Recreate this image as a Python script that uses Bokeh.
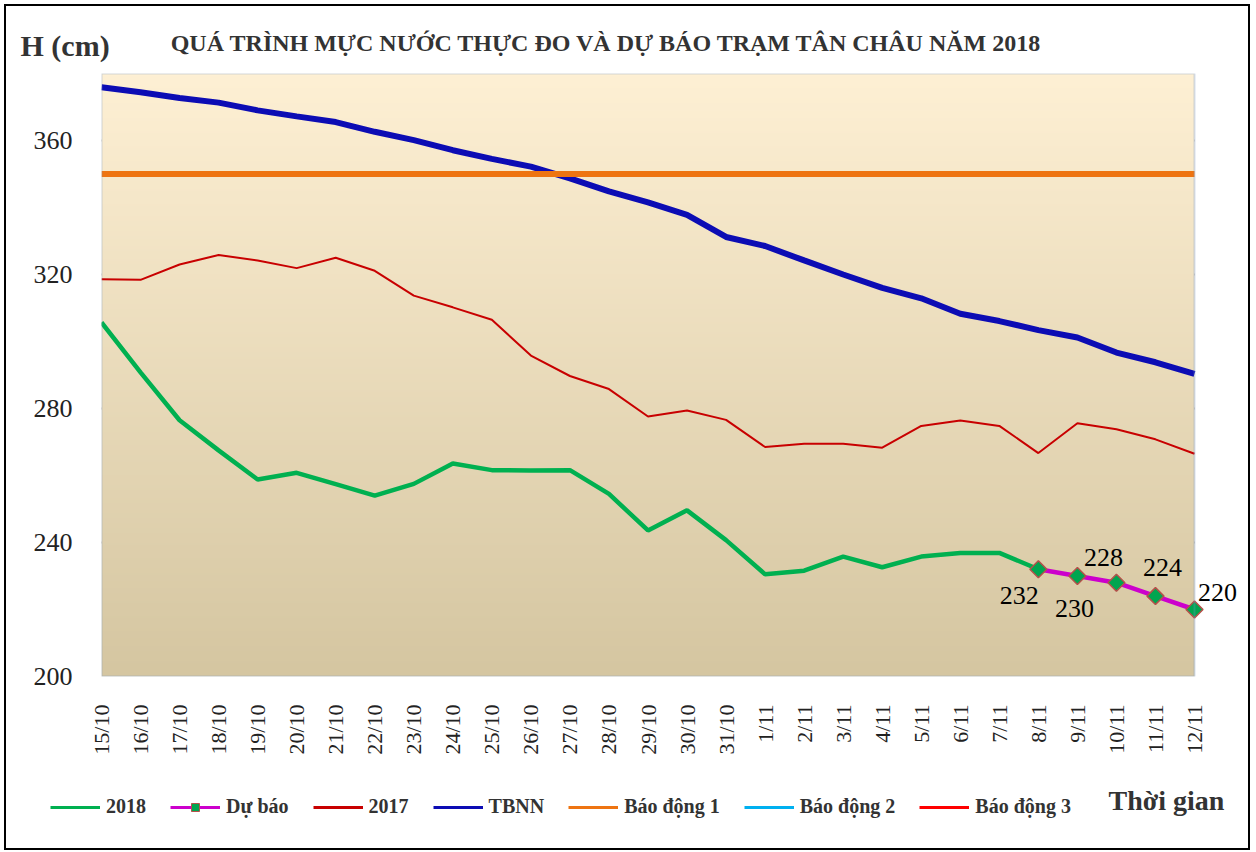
import math
import numpy as np
from bokeh.plotting import figure
from bokeh.layouts import column
from bokeh.models import (Range1d, FixedTicker, Legend, LegendItem, Label,
                          LabelSet, ColumnDataSource, BoxAnnotation)
from bokeh.embed import file_html
from bokeh.resources import INLINE

# ---------------- data ----------------
dates = ["15/10", "16/10", "17/10", "18/10", "19/10", "20/10", "21/10", "22/10",
         "23/10", "24/10", "25/10", "26/10", "27/10", "28/10", "29/10", "30/10",
         "31/10", "1/11", "2/11", "3/11", "4/11", "5/11", "6/11", "7/11",
         "8/11", "9/11", "10/11", "11/11", "12/11"]

h2018 = [305.7, 290.8, 276.5, 267.5, 258.8, 260.8, 257.4, 254.0, 257.5, 263.6,
         261.6, 261.5, 261.6, 254.5, 243.6, 249.6, 240.7, 230.5, 231.6, 235.8,
         232.6, 235.8, 236.9, 236.9, 232.0]

forecast = [232, 230, 228, 224, 220]
forecast_dates = ["8/11", "9/11", "10/11", "11/11", "12/11"]

h2017 = [318.6, 318.4, 323.0, 325.8, 324.2, 321.9, 325.0, 321.1, 313.7, 310.2,
         306.5, 295.8, 289.7, 285.8, 277.6, 279.4, 276.6, 268.5, 269.5, 269.5,
         268.3, 274.8, 276.4, 274.8, 266.7, 275.6, 273.8, 270.8, 266.5]

tbnn = [375.9, 374.4, 372.7, 371.3, 369.0, 367.2, 365.5, 362.6, 360.1, 357.1,
        354.5, 352.2, 348.7, 344.8, 341.5, 337.8, 331.2, 328.5, 324.2, 320.0,
        316.0, 312.9, 308.3, 306.1, 303.4, 301.2, 296.7, 293.8, 290.3]

alarm1 = 350   # Báo động 1
alarm2 = 400   # Báo động 2
alarm3 = 450   # Báo động 3

y_ticks = [200, 240, 280, 320, 360]
grid_ticks = [240, 280, 320, 360]
y_min, y_max = 200, 380

title_text = "QUÁ TRÌNH MỰC NƯỚC THỰC ĐO VÀ DỰ BÁO TRẠM TÂN CHÂU NĂM 2018"
y_unit_text = "H (cm)"
x_title_text = "Thời gian"
legend_labels = ["2018", "Dự báo", "2017", "TBNN", "Báo động 1", "Báo động 2",
                 "Báo động 3"]

# label offsets (pixels, +x right, +y up) for forecast labels
label_dx = [-19, -3, -13, 7, 23]
label_dy = [-26, -32, 25, 29, 17]

# ---------------- layout sizes ----------------
W = 1242
HEAD_H = 60
MAIN_H = 704
FOOT_H = 78
BL, BR, BT = 95, 4, 7
FRAME_H = 603
BB = MAIN_H - BT - FRAME_H
n = len(dates)
plot_px = 1093                     # width of the plotting box
frame_w = W - BL - BR
x_hi = (n - 1) * frame_w / plot_px


def no_align(fig):
    if "frame_align" in fig.properties():
        fig.frame_align = False


# ---------------- header ----------------
head = figure(width=W, height=HEAD_H, output_backend="svg", toolbar_location=None,
              x_range=Range1d(0, W), y_range=Range1d(0, HEAD_H),
              x_axis_location=None, y_axis_location=None,
              min_border=0, outline_line_color=None)
no_align(head)
head.grid.visible = False
head.add_layout(Label(x=14, y=21, text=y_unit_text, text_align="left",
                      text_baseline="middle", text_font="Liberation Serif",
                      text_font_style="bold", text_font_size="30px",
                      text_color="#333333"))
head.add_layout(Label(x=600, y=24, text=title_text, text_align="center",
                      text_baseline="middle", text_font="Liberation Serif",
                      text_font_style="bold", text_font_size="24px",
                      text_color="#333333"))

# ---------------- main figure ----------------
xs = list(range(n))
x2018 = xs[:len(h2018)]
xfc = [dates.index(d) for d in forecast_dates]

p = figure(width=W, height=MAIN_H, output_backend="svg", toolbar_location=None,
           x_range=Range1d(0, x_hi), y_range=Range1d(y_min, y_max),
           min_border_left=BL, min_border_right=BR, min_border_top=BT,
           min_border_bottom=BB, border_fill_color="white",
           background_fill_color="white", outline_line_color=None)
no_align(p)

# gradient background of the plotting box
top = np.array([254, 240, 212])
bot = np.array([213, 198, 161])
rows = 240
t = np.linspace(0, 1, rows)[:, None]          # 0 = bottom, 1 = top
cols = bot + (top - bot) * t
img = np.zeros((rows, 1), dtype=np.uint32)
view = img.view(dtype=np.uint8).reshape((rows, 1, 4))
view[:, 0, 0] = cols[:, 0].astype(np.uint8)
view[:, 0, 1] = cols[:, 1].astype(np.uint8)
view[:, 0, 2] = cols[:, 2].astype(np.uint8)
view[:, 0, 3] = 255
p.image_rgba(image=[img], x=0, y=y_min, dw=n - 1, dh=y_max - y_min)

# axes
p.xaxis.ticker = FixedTicker(ticks=xs)
p.xaxis.major_label_overrides = {i: d for i, d in enumerate(dates)}
p.xaxis.major_label_orientation = math.pi / 2
p.xaxis.major_label_text_font = "Liberation Serif"
p.xaxis.major_label_text_font_size = "22px"
p.xaxis.major_label_text_color = "#222222"
p.xaxis.major_label_standoff = 22
p.xaxis.major_tick_line_color = None
p.xaxis.minor_tick_line_color = None
p.xaxis.axis_line_color = None

p.yaxis.ticker = FixedTicker(ticks=y_ticks)
p.yaxis.major_label_text_font = "Liberation Serif"
p.yaxis.major_label_text_font_size = "26px"
p.yaxis.major_label_text_color = "#222222"
p.yaxis.major_label_standoff = 23
p.yaxis.major_tick_line_color = None
p.yaxis.minor_tick_line_color = None
p.yaxis.axis_line_color = None

p.xgrid.visible = False
grid = p.ygrid[0]
if "cross_bounds" in grid.properties():
    grid.ticker = FixedTicker(ticks=grid_ticks)
    grid.cross_bounds = (0, n - 1)
    grid.grid_line_color = "#868686"
    grid.grid_line_width = 2
else:
    grid.visible = False
    for g in grid_ticks:
        p.add_layout(BoxAnnotation(left=0, right=n - 1, bottom=g, top=g,
                                   fill_color=None, line_color="#868686",
                                   line_width=2, level="underlay"))

# series colours
c2018, cfc, c2017, ctb = "#00B050", "#CC00CC", "#C80000", "#0C0CB4"
cbd1, cbd2, cbd3 = "#EE7411", "#00B0F0", "#FF0000"
c_mark_fill, c_mark_line = "#00A550", "#B5504A"

p.line(x2018, h2018, line_color=c2018, line_width=4.5)
p.line(xfc, forecast, line_color=cfc, line_width=4.5)
p.scatter(xfc, forecast, marker="square", angle=math.pi / 4, size=12,
          fill_color=c_mark_fill, line_color=c_mark_line, line_width=1.5)
p.line(xs, h2017, line_color=c2017, line_width=2)
p.line(xs, tbnn, line_color=ctb, line_width=6)
p.line(xs, [alarm1] * n, line_color=cbd1, line_width=6)
p.line(xs, [alarm2] * n, line_color=cbd2, line_width=3)
p.line(xs, [alarm3] * n, line_color=cbd3, line_width=3)

# border of the plotting box
p.add_layout(BoxAnnotation(left=0, right=n - 1, bottom=y_min, top=y_max,
                           fill_color=None, line_color="#7393C3", line_width=2))

# forecast value labels
src = ColumnDataSource(dict(x=xfc, y=forecast, t=[str(v) for v in forecast],
                            dx=label_dx, dy=label_dy))
p.add_layout(LabelSet(x="x", y="y", text="t", source=src, x_offset="dx",
                      y_offset="dy", text_align="center", text_baseline="middle",
                      text_font="Liberation Sans", text_font_size="26px",
                      text_color="black"))

# ---------------- footer (legend + axis title) ----------------
foot = figure(width=W, height=FOOT_H, output_backend="svg", toolbar_location=None,
              x_range=Range1d(0, W), y_range=Range1d(0, FOOT_H),
              x_axis_location=None, y_axis_location=None,
              min_border=0, outline_line_color=None)
no_align(foot)
foot.grid.visible = False
nan = [float("nan")]
keys = [
    [foot.line(nan, nan, line_color=c2018, line_width=3)],
    [foot.line(nan, nan, line_color=cfc, line_width=3),
     foot.scatter(nan, nan, marker="square", angle=math.pi / 4, size=7.5,
                  fill_color=c_mark_fill, line_color=c_mark_line, line_width=1)],
    [foot.line(nan, nan, line_color=c2017, line_width=3)],
    [foot.line(nan, nan, line_color=ctb, line_width=3)],
    [foot.line(nan, nan, line_color=cbd1, line_width=3)],
    [foot.line(nan, nan, line_color=cbd2, line_width=3)],
    [foot.line(nan, nan, line_color=cbd3, line_width=3)],
]

legend = Legend(items=[LegendItem(label=lbl, renderers=r)
                       for lbl, r in zip(legend_labels, keys)],
                orientation="horizontal", location=(44, 30), glyph_width=50,
                glyph_height=20, label_standoff=6, spacing=24, padding=0,
                margin=0, border_line_color=None, background_fill_alpha=0,
                label_text_font="Liberation Serif", label_text_font_style="bold",
                label_text_font_size="20px", label_text_color="#333333")
foot.add_layout(legend)
foot.add_layout(Label(x=1102, y=48, text=x_title_text, text_align="left",
                      text_baseline="middle", text_font="Liberation Serif",
                      text_font_style="bold", text_font_size="28px",
                      text_color="#333333"))

page = column(head, p, foot, spacing=0,
              styles={"border": "2px solid black", "margin": "4px 0 0 4px"})

open("out.html", "w").write(file_html(page, INLINE))
